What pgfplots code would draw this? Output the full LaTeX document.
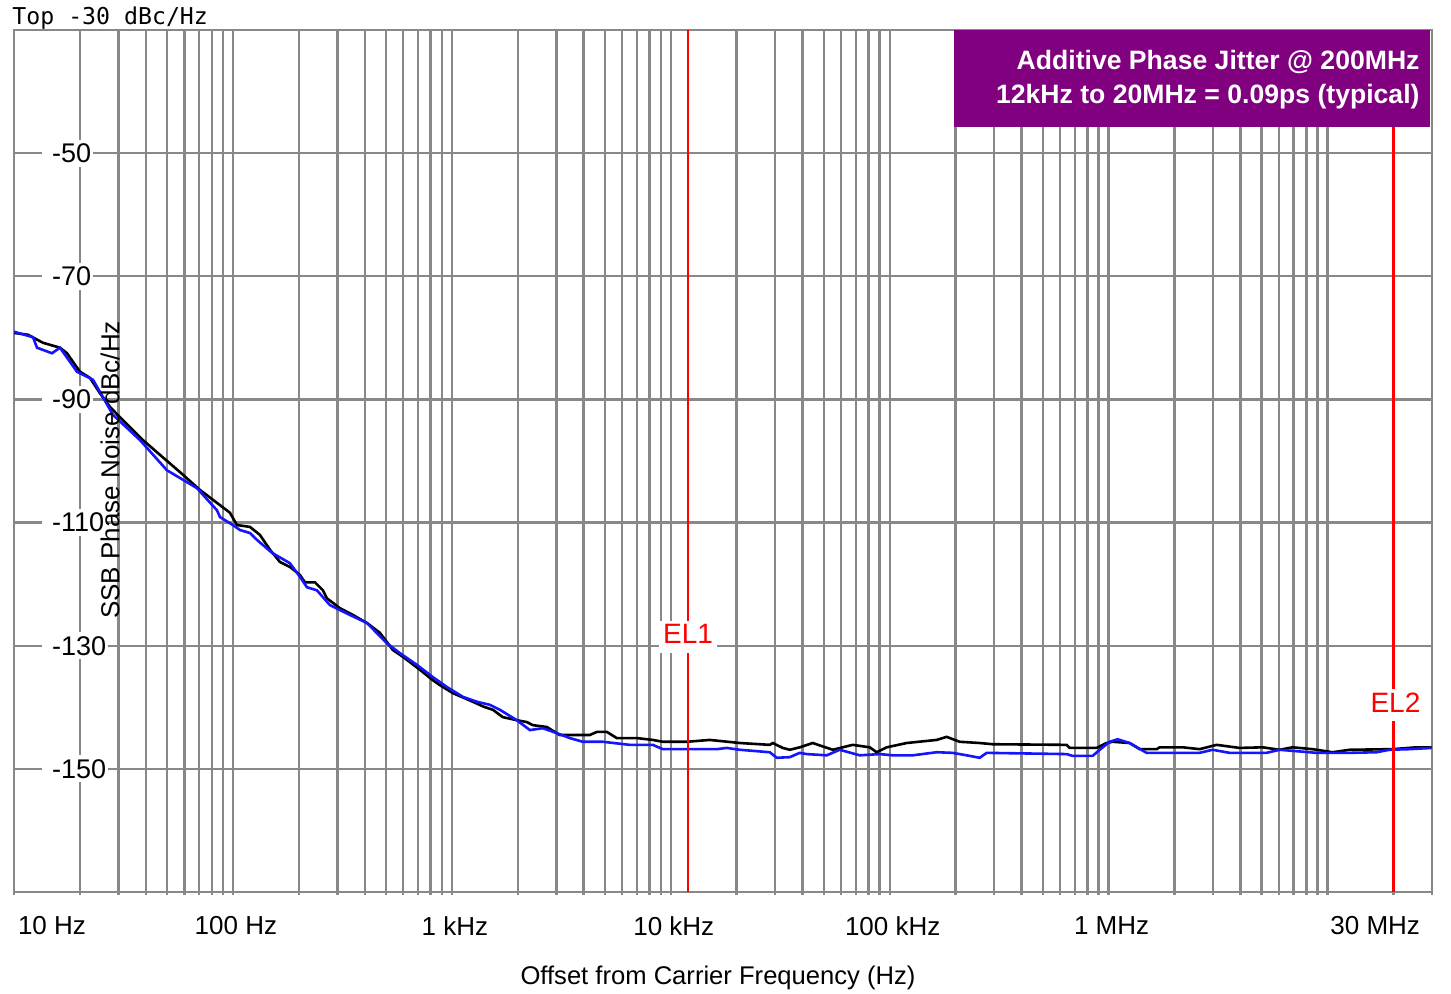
\documentclass[border=0pt]{standalone}
\usepackage{fontspec}
\setmainfont{Liberation Sans}
\newfontfamily\monofont{DejaVu Sans Mono}
\usepackage{pgfplots}
\pgfplotsset{compat=1.18}
\definecolor{gridgray}{RGB}{136,136,136}
\definecolor{boxpurple}{RGB}{128,0,128}
\definecolor{curveblue}{RGB}{20,20,255}
\begin{document}
\begin{tikzpicture}
\useasboundingbox (0,0) rectangle (725.5pt,496.5pt);
\begin{axis}[
  at={(7pt,50.5pt)}, anchor=south west,
  scale only axis, width=709pt, height=431pt,
  xmode=log, xmin=10, xmax=30000000, ymin=-170, ymax=-30,
  xtick={100,1000,10000,100000,1000000},
  xticklabels={100 Hz,1 kHz,10 kHz,100 kHz,1 MHz},
  minor xtick={20,30,40,50,60,70,80,90,200,300,400,500,600,700,800,900,2000,3000,4000,5000,6000,7000,8000,9000,20000,30000,40000,50000,60000,70000,80000,90000,200000,300000,400000,500000,600000,700000,800000,900000,2000000,3000000,4000000,5000000,6000000,7000000,8000000,9000000,10000000,20000000},
  extra x ticks={10,30000000},
  extra x tick labels={\makebox[0pt][l]{\kern0.5pt 10 Hz},\makebox[0pt][r]{30 MHz\kern7.5pt}},
  extra x tick style={grid=none},
  ytick={-150,-130,-110,-90,-70,-50},
  yticklabels={\kern4pt-150,\kern4pt-130,\kern4pt-110,\kern4pt-90,\kern4pt-70,\kern4pt-50},
  grid=both,
  major grid style={gridgray, line width=1.2pt},
  minor grid style={gridgray, line width=1.2pt},
  axis line style={gridgray, line width=1.2pt},
  tick style={gridgray, line width=1.2pt},
  tick align=outside, major tick length=1.6pt, minor tick length=1.6pt,
  xtick pos=bottom, ytick pos=left,
  ytick style={draw=none},
  xticklabel style={font=\fontsize{13}{15}\selectfont, yshift=-7.2pt, xshift=1.5pt},
  yticklabel style={font=\fontsize{13.5}{15}\selectfont, anchor=west, fill=white, inner xsep=1pt, inner ysep=2pt, xshift=15.5pt},
  xlabel={Offset from Carrier Frequency (Hz)},
  xlabel style={at={(axis description cs:0.5,0)}, anchor=center, yshift=-43pt, xshift=-2.5pt, font=\fontsize{12.8}{15}\selectfont},
  ylabel={SSB Phase Noise dBc/Hz},
  ylabel style={at={(axis description cs:0.0677,0.4896)}, anchor=center, font=\fontsize{13}{15}\selectfont},
]
\addplot[black, line width=1.3pt] table {
10 -79.2
11.59 -79.5
13.56 -80.8
16.22 -81.6
17.46 -82.5
20.01 -85.5
22.23 -86.5
24.70 -89.0
27.44 -91.2
30.48 -92.9
38.82 -96.6
46.42 -99.0
57.28 -101.8
70.69 -104.7
81.02 -106.3
96.89 -108.4
104.3 -110.4
119.6 -110.7
132.8 -112.0
147.6 -114.4
163.9 -116.4
182.1 -117.2
202.3 -118.5
213.2 -119.7
236.8 -119.7
257.6 -121.0
268.7 -122.3
308.1 -123.9
353.1 -125.0
409.2 -126.3
469.1 -127.9
537.9 -130.7
597.4 -131.8
714.2 -133.9
819.0 -135.6
881.5 -136.4
1011 -137.7
1247 -139.1
1397 -139.9
1539 -140.4
1710 -141.6
1981 -142.1
2200 -142.4
2344 -142.9
2715 -143.2
3017 -144.2
3114 -144.5
4267 -144.5
4594 -144.0
5104 -144.0
5668 -145.0
6993 -145.0
8275 -145.3
9194 -145.6
11834 -145.6
15073 -145.3
20661 -145.8
28320 -146.1
29230 -145.8
32470 -146.6
34950 -146.9
38820 -146.5
44490 -145.8
54920 -146.9
67780 -146.1
81020 -146.5
87250 -147.3
96890 -146.5
119600 -145.8
163900 -145.3
182100 -144.8
208700 -145.6
257600 -145.8
295400 -146.0
642800 -146.1
663400 -146.6
881500 -146.6
979300 -145.8
1043000 -145.6
1247000 -145.8
1386000 -146.8
1657000 -146.8
1710000 -146.5
2178000 -146.5
2603000 -146.8
3114000 -146.1
3965000 -146.6
5050000 -146.5
6037000 -146.9
6921000 -146.5
8542000 -146.8
10540000 -147.3
12610000 -146.9
19810000 -146.8
25490000 -146.5
29860000 -146.5
};
\addplot[curveblue, line width=1.3pt] table {
10 -79.0
12.21 -79.9
12.74 -81.6
14.91 -82.5
16.22 -81.6
19.40 -85.5
22.95 -86.8
28.32 -92.5
37.61 -96.6
49.95 -101.5
68.47 -104.4
84.55 -108.0
87.25 -109.1
100 -110.4
107.6 -111.2
119.6 -111.7
128.7 -112.8
150.7 -114.9
182.1 -116.6
202.3 -118.8
217.8 -120.5
241.9 -121.0
277.3 -123.4
342.1 -125.0
409.2 -126.3
505.0 -129.6
578.8 -131.2
692.0 -133.1
819.0 -135.1
948.9 -136.7
1123 -138.3
1301 -139.1
1491 -139.6
1657 -140.4
1981 -142.1
2271 -143.7
2603 -143.4
3017 -144.2
3458 -145.0
3965 -145.6
4892 -145.6
6498 -146.1
8275 -146.1
9194 -146.8
16220 -146.8
18019 -146.6
20661 -146.9
28320 -147.3
30480 -148.2
34950 -148.1
38820 -147.4
41780 -147.6
51560 -147.8
59110 -146.9
72950 -147.8
90030 -147.6
103200 -147.8
127400 -147.8
163900 -147.3
194000 -147.4
224700 -147.8
257600 -148.2
277300 -147.4
642800 -147.6
684700 -147.9
845300 -147.9
909800 -146.9
1011000 -145.6
1099000 -145.2
1247000 -145.8
1491000 -147.4
2603000 -147.4
2985000 -146.9
3569000 -147.4
5266000 -147.4
6037000 -146.9
8910000 -147.4
12610000 -147.4
16740000 -147.3
19200000 -146.9
23680000 -146.8
29860000 -146.6
};
\addplot[red, line width=1.2pt] coordinates {(12000,-170) (12000,-30)};
\addplot[red, line width=1.2pt] coordinates {(20000000,-170) (20000000,-30)};
\node[anchor=base, fill=white, text=red, inner sep=2pt, text depth=2.5pt, font=\fontsize{14}{16}\selectfont] at (axis cs:12000,-129.7) {EL1};
\node[anchor=base, fill=white, text=red, inner sep=2pt, text depth=2.5pt, font=\fontsize{14}{16}\selectfont, xshift=1pt] at (axis cs:20000000,-140.8) {EL2};
\fill[boxpurple] (axis description cs:0.6629,0.8875) rectangle (axis description cs:0.9986,1.0035);
\node[anchor=base east, inner sep=0pt, text=white, font=\bfseries\fontsize{13.3}{15}\selectfont] at (axis description cs:0.9915,0.9545) {Additive Phase Jitter @ 200MHz};
\node[anchor=base east, inner sep=0pt, text=white, font=\bfseries\fontsize{13.3}{15}\selectfont] at (axis description cs:0.9915,0.9153) {12kHz to 20MHz = 0.09ps (typical)};
\end{axis}
\node[anchor=base west, inner sep=0pt, font=\monofont\fontsize{11.6}{14}\selectfont] at (6pt,484pt) {Top -30 dBc/Hz};
\end{tikzpicture}
\end{document}
